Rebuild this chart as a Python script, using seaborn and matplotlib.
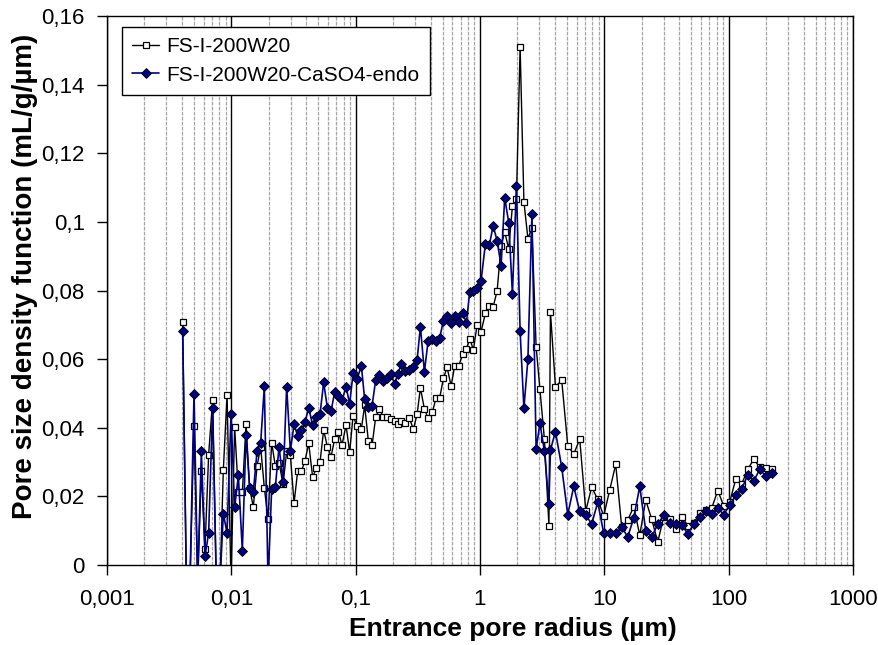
import matplotlib
matplotlib.use("Agg")
import matplotlib.pyplot as plt
from matplotlib.ticker import LogLocator, FixedLocator, FuncFormatter, NullFormatter
import pandas as pd
import seaborn as sns

# entrance pore radius (um), shared by both samples
radius_um = [
    0.00406, 0.00435, 0.00465, 0.00501, 0.00536, 0.00574, 0.00614, 0.00657, 0.00707, 0.00757,
    0.00811, 0.00862, 0.00924, 0.00994, 0.01063, 0.01139, 0.01226, 0.01313, 0.01404, 0.01503,
    0.0161, 0.01721, 0.01843, 0.01974, 0.0211, 0.02259, 0.0242, 0.02606, 0.02786, 0.02984,
    0.03195, 0.03415, 0.03658, 0.03917, 0.04188, 0.04509, 0.0483, 0.05172, 0.05527, 0.0592,
    0.06341, 0.06778, 0.07258, 0.07772, 0.08371, 0.08945, 0.0953, 0.1026, 0.1111, 0.1181,
    0.1266, 0.1355, 0.1449, 0.1551, 0.1671, 0.1789, 0.1912, 0.2059, 0.2178, 0.2332,
    0.2511, 0.2704, 0.2912, 0.3119, 0.3316, 0.357, 0.3823, 0.414, 0.4436, 0.4741,
    0.5076, 0.5436, 0.5855, 0.6257, 0.674, 0.7258, 0.7772, 0.826, 0.8851, 0.9477,
    1.0205, 1.105, 1.19, 1.275, 1.373, 1.478, 1.58, 1.702, 1.823, 1.963,
    2.102, 2.255, 2.429, 2.616, 2.827, 3.034, 3.297, 3.584, 3.685, 4.043,
    4.543, 5.077, 5.674, 6.341, 7.087, 7.918, 8.851, 9.89, 11.05, 12.35,
    13.8, 15.43, 17.24, 19.27, 21.53, 24.06, 26.89, 30.06, 33.59, 37.53,
    41.95, 46.88, 52.39, 58.55, 65.43, 73.11, 81.71, 91.31, 102.0, 114.0,
    127.4, 142.4, 159.2, 177.9, 198.8, 223.0,
]

# FS-I-200W20
psd_ref = [
    0.0708, -0.005, -0.005, 0.0405, -0.005, 0.0273, 0.0048, 0.0322, 0.0481, -0.005,
    -0.005, 0.0276, 0.0495, -0.005, 0.0402, 0.0212, 0.0212, 0.0410, 0.0223, 0.0169,
    0.0289, 0.0344, 0.0224, 0.0135, 0.0357, 0.0288, 0.0298, 0.0236, 0.0331, 0.0320,
    0.0180, 0.0273, 0.0273, 0.0304, 0.0355, 0.0256, 0.0282, 0.0301, 0.0393, 0.0345,
    0.0316, 0.0367, 0.0388, 0.0350, 0.0408, 0.0328, 0.0435, 0.0404, 0.0396, 0.0465,
    0.0360, 0.0349, 0.0431, 0.0454, 0.0432, 0.0432, 0.0426, 0.0419, 0.0411, 0.0420,
    0.0415, 0.0428, 0.0396, 0.0439, 0.0516, 0.0455, 0.0428, 0.0446, 0.0487, 0.0487,
    0.0544, 0.0576, 0.0522, 0.0580, 0.0580, 0.0615, 0.0629, 0.0660, 0.0627, 0.0700,
    0.0680, 0.0734, 0.0755, 0.0752, 0.0799, 0.0931, 0.0971, 0.0921, 0.1046, 0.1067,
    0.1509, 0.1059, 0.0951, 0.0983, 0.0636, 0.0513, 0.0366, 0.0115, 0.0738, 0.0520,
    0.0538, 0.0348, 0.0323, 0.0367, 0.0158, 0.0227, 0.0191, 0.0143, 0.0219, 0.0293,
    0.0110, 0.0131, 0.0170, 0.0087, 0.0189, 0.0133, 0.0067, 0.0141, 0.0133, 0.0104,
    0.0141, 0.0115, 0.0122, 0.0151, 0.0161, 0.0166, 0.0217, 0.0172, 0.0184, 0.0250,
    0.0236, 0.0279, 0.0308, 0.0285, 0.0282, 0.0279,
]

# FS-I-200W20-CaSO4-endo
psd_caso4 = [
    0.0683, -0.005, -0.005, 0.0499, -0.005, 0.0331, 0.0025, 0.0094, 0.0458, -0.005,
    -0.005, 0.0149, 0.0093, 0.0439, 0.0168, 0.0261, 0.0042, 0.0380, 0.0225, 0.0212,
    0.0332, 0.0355, 0.0521, -0.005, 0.0222, 0.0227, 0.0345, 0.0242, 0.0520, 0.0333,
    0.0410, 0.0376, 0.0393, 0.0416, 0.0459, 0.0407, 0.0432, 0.0441, 0.0532, 0.0458,
    0.0449, 0.0504, 0.0493, 0.0480, 0.0520, 0.0469, 0.0559, 0.0541, 0.0581, 0.0483,
    0.0460, 0.0464, 0.0539, 0.0554, 0.0536, 0.0544, 0.0556, 0.0528, 0.0557, 0.0585,
    0.0565, 0.0568, 0.0578, 0.0597, 0.0695, 0.0563, 0.0652, 0.0660, 0.0652, 0.0662,
    0.0712, 0.0727, 0.0706, 0.0727, 0.0707, 0.0735, 0.0706, 0.0795, 0.0799, 0.0807,
    0.0829, 0.0936, 0.0933, 0.0989, 0.0945, 0.0872, 0.1071, 0.0998, 0.0790, 0.1105,
    0.0681, 0.0457, 0.0600, 0.1023, 0.0337, 0.0413, 0.0332, 0.0178, 0.0335, 0.0389,
    0.0285, 0.0147, 0.0229, 0.0156, 0.0145, 0.0120, 0.0183, 0.0092, 0.0092, 0.0092,
    0.0110, 0.0082, 0.0137, 0.0229, 0.0100, 0.0082, 0.0119, 0.0145, 0.0122, 0.0119,
    0.0117, 0.0091, 0.0119, 0.0139, 0.0156, 0.0148, 0.0166, 0.0147, 0.0175, 0.0203,
    0.0221, 0.0263, 0.0245, 0.0279, 0.0259, 0.0269,
]

labels = ["FS-I-200W20", "FS-I-200W20-CaSO4-endo"]
x_ticks = [0.001, 0.01, 0.1, 1, 10, 100, 1000]
y_ticks = [0, 0.02, 0.04, 0.06, 0.08, 0.1, 0.12, 0.14, 0.16]

sns.set_style("ticks")
plt.rcParams["font.family"] = ["Liberation Sans", "DejaVu Sans"]
plt.rcParams.update({"text.color": "black", "axes.labelcolor": "black",
                     "xtick.color": "black", "ytick.color": "black"})

df = pd.DataFrame({"radius": radius_um, "ref": psd_ref, "caso4": psd_caso4})

fig, ax = plt.subplots(figsize=(8.79, 6.45), dpi=100)
fig.subplots_adjust(left=107 / 879, right=853 / 879, bottom=80 / 645, top=629 / 645)
ax.set_xscale("log")

# vertical grid only: black decades, grey sub-decades
ax.set_axisbelow(True)
ax.grid(True, which="major", axis="x", color="black", lw=1.0, ls="-")
ax.grid(True, which="minor", axis="x", color="#a6a6a6", lw=0.9, ls=(0, (3, 1)))

sns.lineplot(data=df, x="radius", y="ref", ax=ax, estimator=None, sort=False,
             color="black", lw=1.0, marker="s", markersize=5.0,
             markerfacecolor="white", markeredgecolor="black", markeredgewidth=0.9,
             label=labels[0])
sns.lineplot(data=df, x="radius", y="caso4", ax=ax, estimator=None, sort=False,
             color="#000080", lw=1.2, marker="D", markersize=4.6,
             markerfacecolor="#000080", markeredgecolor="black", markeredgewidth=0.6,
             label=labels[1])

ax.set_xlim(0.001, 1000)
ax.set_ylim(0, 0.16)
ax.xaxis.set_major_locator(FixedLocator(x_ticks))
ax.xaxis.set_minor_locator(LogLocator(base=10, subs=range(2, 10), numticks=20))
ax.xaxis.set_minor_formatter(NullFormatter())
ax.yaxis.set_major_locator(FixedLocator(y_ticks))
comma = FuncFormatter(lambda v, p: f"{v:g}".replace(".", ","))
ax.xaxis.set_major_formatter(comma)
ax.yaxis.set_major_formatter(comma)

ax.tick_params(axis="x", which="major", direction="out", length=7, width=1,
               labelsize=16, pad=10, color="black", labelcolor="black")
ax.tick_params(axis="x", which="minor", length=0)
ax.tick_params(axis="y", which="major", direction="out", length=7, width=1,
               labelsize=16, pad=9, color="black", labelcolor="black")
for s in ax.spines.values():
    s.set_visible(True)
    s.set_color("black")
    s.set_linewidth(1.0)

ax.set_xlabel("Entrance pore radius (µm)", fontsize=19, fontweight="bold", color="black")
ax.set_ylabel("Pore size density function (mL/g/µm)", fontsize=20, fontweight="bold",
              color="black")
ax.xaxis.set_label_coords(0.544, -0.094)
ax.yaxis.set_label_coords(-0.092, 0.525)

leg = ax.legend(loc="upper left", bbox_to_anchor=(0.02, 0.98), borderaxespad=0,
                fontsize=15, frameon=True, fancybox=False, edgecolor="black",
                framealpha=1, handlelength=1.3, handletextpad=0.35,
                borderpad=0.5, labelspacing=0.45)
leg.get_frame().set_linewidth(1.0)
for t in leg.get_texts():
    t.set_color("black")

fig.savefig("out.png", dpi=100)
